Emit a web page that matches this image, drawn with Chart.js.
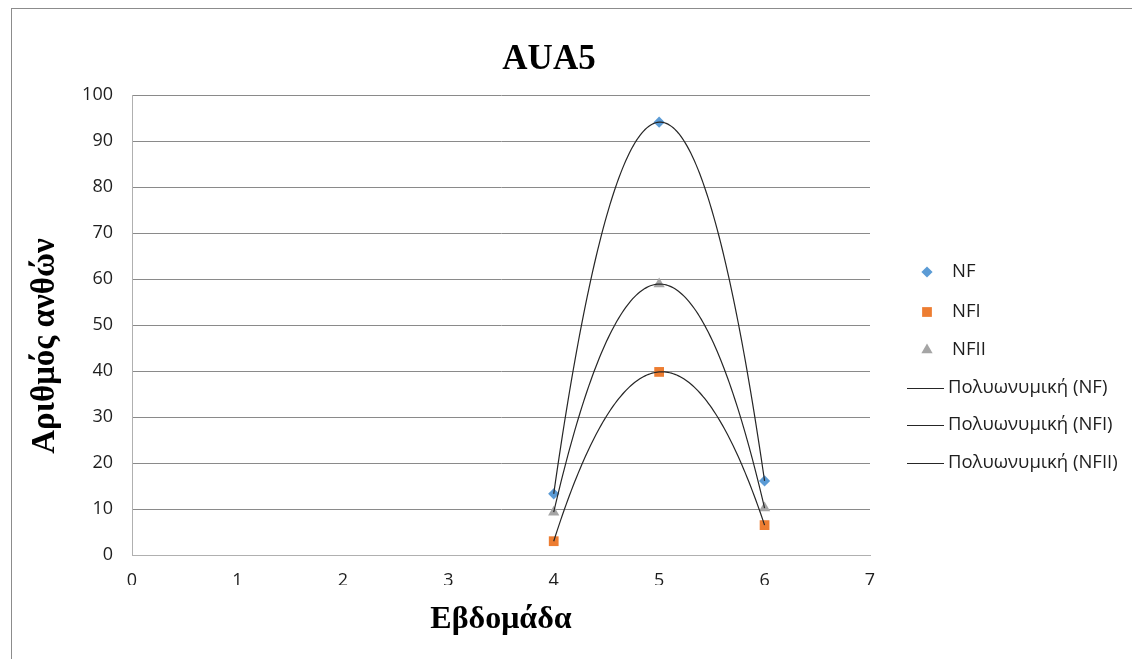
<!DOCTYPE html>
<html>
<head>
<meta charset="utf-8">
<title>AUA5</title>
<script src="https://cdn.jsdelivr.net/npm/chart.js@4/dist/chart.umd.min.js"></script>
<style>
  html, body { margin: 0; padding: 0; background: #ffffff; }
  #wrap { width: 1132px; height: 659px; position: relative; }
</style>
</head>
<body>
<div id="wrap"><canvas id="chart" width="1132" height="659"></canvas></div>
<script>
// Weeks (x) and flower counts per treatment
const weeks = [4, 5, 6];
const nf = [13.3, 94.1, 16.1];
const nfi = [3.0, 39.8, 6.5];
const nfii = [9.3, 58.9, 10.2];

const xTickValues = [0, 1, 2, 3, 4, 5, 6, 7];
const yTickValues = [0, 10, 20, 30, 40, 50, 60, 70, 80, 90, 100];

const chartTitle = 'AUA5';
const xTitle = 'Εβδομάδα';
const yTitle = 'Αριθμός ανθών';
const seriesNames = ['NF', 'NFI', 'NFII'];
const trendNames = ['Πολυωνυμική (NF)', 'Πολυωνυμική (NFI)', 'Πολυωνυμική (NFII)'];

// Second-order least-squares polynomial fit, returns [c0, c1, c2]
function polyfit2(xs, ys) {
  const n = xs.length;
  let s = [0, 0, 0, 0, 0], t = [0, 0, 0];
  for (let i = 0; i < n; i++) {
    let p = 1;
    for (let k = 0; k < 5; k++) { s[k] += p; if (k < 3) t[k] += p * ys[i]; p *= xs[i]; }
  }
  const A = [[s[0], s[1], s[2], t[0]], [s[1], s[2], s[3], t[1]], [s[2], s[3], s[4], t[2]]];
  for (let c = 0; c < 3; c++) {
    for (let r = c + 1; r < 3; r++) {
      const f = A[r][c] / A[c][c];
      for (let k = c; k < 4; k++) A[r][k] -= f * A[c][k];
    }
  }
  const x = [0, 0, 0];
  for (let r = 2; r >= 0; r--) {
    let v = A[r][3];
    for (let k = r + 1; k < 3; k++) v -= A[r][k] * x[k];
    x[r] = v / A[r][r];
  }
  return x;
}

function trendPoints(xs, ys) {
  const c = polyfit2(xs, ys);
  const lo = Math.min(...xs), hi = Math.max(...xs);
  const pts = [];
  const steps = 120;
  for (let i = 0; i <= steps; i++) {
    const x = lo + (hi - lo) * i / steps;
    pts.push({ x: x, y: c[0] + c[1] * x + c[2] * x * x });
  }
  return pts;
}

const toXY = (ys) => weeks.map((w, i) => ({ x: w, y: ys[i] }));

const markerStyles = [
  { pointStyle: 'rectRot', radius: 5.6, color: '#5B9BD5' },
  { pointStyle: 'rect', radius: 6.9, color: '#ED7D31' },
  { pointStyle: 'triangle', radius: 6.5, color: '#A5A5A5' }
];
const trendColor = '#262626';
const textColor = '#1e1e1e';
const sansFont = '"Open Sans", "Noto Sans", sans-serif';
const serifFont = '"Liberation Serif", "Times New Roman", serif';

const seriesData = [nf, nfi, nfii];

const datasets = [];
seriesData.forEach((ys, i) => {
  datasets.push({
    label: trendNames[i],
    type: 'scatter',
    data: trendPoints(weeks, ys),
    showLine: true,
    borderColor: trendColor,
    borderWidth: 1.2,
    pointRadius: 0,
    tension: 0,
    order: 0
  });
});
seriesData.forEach((ys, i) => {
  const m = markerStyles[i];
  datasets.push({
    label: seriesNames[i],
    type: 'scatter',
    data: toXY(ys),
    pointStyle: m.pointStyle,
    pointRadius: m.radius,
    backgroundColor: m.color,
    borderColor: m.color,
    borderWidth: 0,
    showLine: false,
    order: 1
  });
});

// Frame, titles and legend drawn on the canvas
const decorations = {
  id: 'decorations',
  afterDraw(chart) {
    const ctx = chart.ctx;
    const area = chart.chartArea;
    ctx.save();

    // outer frame
    ctx.strokeStyle = '#8c8c8c';
    ctx.lineWidth = 1;
    ctx.strokeRect(11.5, 8.5, 1300, 800);

    // chart title
    ctx.fillStyle = '#000000';
    ctx.textAlign = 'center';
    ctx.textBaseline = 'alphabetic';
    ctx.font = 'bold 35px ' + serifFont;
    ctx.fillText(chartTitle, 549, 69);

    // x axis title
    ctx.font = 'bold 32px ' + serifFont;
    ctx.fillText(xTitle, (area.left + area.right) / 2, 628);

    // y axis title
    ctx.save();
    ctx.translate(45, 346);
    ctx.rotate(-Math.PI / 2);
    ctx.textBaseline = 'middle';
    ctx.font = 'bold 33px ' + serifFont;
    ctx.fillText(yTitle, 0, 0);
    ctx.restore();

    // legend
    ctx.textAlign = 'left';
    ctx.textBaseline = 'middle';
    ctx.font = '18.5px ' + sansFont;
    const rowsY = [272, 312, 350, 388, 425, 463];
    markerStyles.forEach((m, i) => {
      ctx.fillStyle = m.color;
      ctx.strokeStyle = m.color;
      Chart.helpers.drawPoint(ctx, { pointStyle: m.pointStyle, radius: m.radius, rotation: 0, borderWidth: 0 }, 927, rowsY[i]);
      ctx.fillStyle = textColor;
      ctx.fillText(seriesNames[i], 952, rowsY[i]);
    });
    trendNames.forEach((name, i) => {
      const y = Math.round(rowsY[i + 3]) + 0.5;
      ctx.strokeStyle = trendColor;
      ctx.lineWidth = 1;
      ctx.beginPath();
      ctx.moveTo(907, y);
      ctx.lineTo(944, y);
      ctx.stroke();
      ctx.fillStyle = textColor;
      ctx.fillText(name, 948, rowsY[i + 3]);
    });
    ctx.restore();
  }
};

new Chart(document.getElementById('chart'), {
  type: 'scatter',
  data: { datasets: datasets },
  options: {
    responsive: false,
    animation: false,
    layout: { padding: { left: 0, top: 95, right: 262, bottom: 74 } },
    plugins: {
      legend: { display: false },
      title: { display: false },
      tooltip: { enabled: false }
    },
    scales: {
      x: {
        type: 'linear',
        min: 0,
        max: 7,
        afterFit(scale) { scale.height = 30; },
        afterBuildTicks(scale) { scale.ticks = xTickValues.map(v => ({ value: v })); },
        grid: { display: false, drawTicks: false },
        border: { display: true, color: '#b0b0b0', width: 1 },
        ticks: {
          padding: 15,
          color: textColor,
          font: { family: sansFont, size: 18 }
        }
      },
      y: {
        type: 'linear',
        min: 0,
        max: 100,
        afterFit(scale) { scale.width = 132; },
        afterBuildTicks(scale) { scale.ticks = yTickValues.map(v => ({ value: v })); },
        grid: { color: '#8a8a8a', lineWidth: 1, drawTicks: false },
        border: { display: true, color: '#b0b0b0', width: 1 },
        ticks: {
          padding: 19,
          color: textColor,
          font: { family: sansFont, size: 18 }
        }
      }
    }
  },
  plugins: [decorations]
});
</script>
</body>
</html>
